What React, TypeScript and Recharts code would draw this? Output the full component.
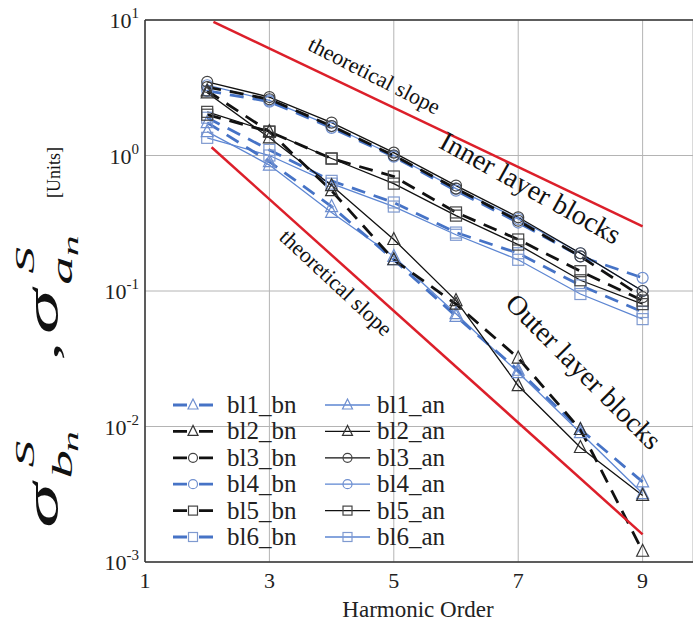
import React from 'react';
import { LineChart, Line, XAxis, YAxis, CartesianGrid, ReferenceLine } from 'recharts';

const FONT = "'Liberation Serif', 'Times New Roman', serif";

// harmonic orders on the x axis
const harmonics = [2, 3, 4, 5, 6, 7, 8, 9];

// outer layer blocks (triangles)
const bl1_bn = [1.75, 0.9, 0.42, 0.17, 0.065, 0.026, 0.0095, 0.0039];
const bl1_an = [1.5, 0.85, 0.38, 0.18, 0.068, 0.025, 0.009, 0.0032];
const bl2_bn = [3.0, 1.5, 0.55, 0.17, 0.08, 0.032, 0.0095, 0.0012];
const bl2_an = [2.9, 1.35, 0.6, 0.24, 0.085, 0.02, 0.007, 0.0031];

// inner layer blocks (circles, squares)
const bl3_bn = [3.2, 2.6, 1.65, 1.0, 0.57, 0.33, 0.18, 0.09];
const bl3_an = [3.5, 2.7, 1.75, 1.05, 0.6, 0.35, 0.19, 0.1];
const bl4_bn = [3.0, 2.5, 1.6, 0.98, 0.55, 0.32, 0.18, 0.125];
const bl4_an = [3.3, 2.55, 1.65, 1.0, 0.57, 0.34, 0.19, 0.1];
const bl5_bn = [2.0, 1.5, 0.95, 0.7, 0.38, 0.24, 0.14, 0.085];
const bl5_an = [2.1, 1.5, 0.95, 0.62, 0.36, 0.22, 0.12, 0.08];
const bl6_bn = [1.9, 1.1, 0.65, 0.45, 0.27, 0.19, 0.11, 0.07];
const bl6_an = [1.35, 1.0, 0.62, 0.42, 0.26, 0.17, 0.095, 0.062];

// theoretical slope guide lines
const upperSlopeX = [2.1, 9];
const upperSlopeY = [9.7, 0.3];
const lowerSlopeX = [2.07, 9];
const lowerSlopeY = [1.15, 0.0016];

const xTicks = [1, 3, 5, 7, 9];
const yTicks = [0.001, 0.01, 0.1, 1, 10];

const values: Record<string, number[]> = {
  bl1_bn, bl1_an, bl2_bn, bl2_an, bl3_bn, bl3_an,
  bl4_bn, bl4_an, bl5_bn, bl5_an, bl6_bn, bl6_an,
};

const data = harmonics.map((h, i) => {
  const row: Record<string, number> = { h };
  Object.keys(values).forEach((k) => { row[k] = values[k][i]; });
  return row;
});

const upperSlope = upperSlopeX.map((h, i) => ({ h, v: upperSlopeY[i] }));
const lowerSlope = lowerSlopeX.map((h, i) => ({ h, v: lowerSlopeY[i] }));

const BLUE = '#4673c6';
const BLUE_LIGHT = '#5d86d2';
const BLACK = '#111';
const RED = '#dc1f2a';

type Shape = 'triangle' | 'circle' | 'square';

const styleOf: Record<string, { color: string; mark: string; shape: Shape; dashed: boolean }> = {
  bl1_bn: { color: BLUE, mark: '#6f8fcf', shape: 'triangle', dashed: true },
  bl1_an: { color: BLUE_LIGHT, mark: '#6f8fcf', shape: 'triangle', dashed: false },
  bl2_bn: { color: BLACK, mark: '#333', shape: 'triangle', dashed: true },
  bl2_an: { color: BLACK, mark: '#333', shape: 'triangle', dashed: false },
  bl3_bn: { color: BLACK, mark: '#444', shape: 'circle', dashed: true },
  bl3_an: { color: BLACK, mark: '#444', shape: 'circle', dashed: false },
  bl4_bn: { color: BLUE, mark: '#6f8fcf', shape: 'circle', dashed: true },
  bl4_an: { color: BLUE_LIGHT, mark: '#6f8fcf', shape: 'circle', dashed: false },
  bl5_bn: { color: BLACK, mark: '#444', shape: 'square', dashed: true },
  bl5_an: { color: BLACK, mark: '#444', shape: 'square', dashed: false },
  bl6_bn: { color: BLUE, mark: '#7f9ad0', shape: 'square', dashed: true },
  bl6_an: { color: BLUE_LIGHT, mark: '#7f9ad0', shape: 'square', dashed: false },
};

const order = ['bl6_an', 'bl6_bn', 'bl1_an', 'bl1_bn', 'bl5_an', 'bl5_bn', 'bl4_an', 'bl4_bn', 'bl2_an', 'bl2_bn', 'bl3_an', 'bl3_bn'];

const Marker = ({ cx, cy, shape, color, s = 6 }: any) => {
  if (shape === 'triangle') {
    return <polygon points={`${cx},${cy - s - 1} ${cx - s},${cy + s - 1} ${cx + s},${cy + s - 1}`} fill="none" stroke={color} strokeWidth={1.2} />;
  }
  if (shape === 'circle') {
    return <circle cx={cx} cy={cy} r={s - 0.5} fill="none" stroke={color} strokeWidth={1.2} />;
  }
  return <rect x={cx - s + 0.5} y={cy - s + 0.5} width={2 * s - 1} height={2 * s - 1} fill="none" stroke={color} strokeWidth={1.2} />;
};

const makeDot = (name: string) => (props: any) => {
  const { cx, cy, index } = props;
  const st = styleOf[name];
  if (cx == null || cy == null) return <g key={`${name}-${index}`} />;
  return (
    <g key={`${name}-${index}`}>
      <Marker cx={cx} cy={cy} shape={st.shape} color={st.mark} />
    </g>
  );
};

const LogTick = ({ x, y, payload }: any) => {
  const exp = Math.round(Math.log10(payload.value));
  return (
    <text x={x} y={y + 8} textAnchor="end" style={{ fontFamily: FONT }} fill="#222">
      <tspan fontSize={22}>10</tspan>
      <tspan fontSize={15} dy={-10}>{exp}</tspan>
    </text>
  );
};

const XTick = ({ x, y, payload }: any) => (
  <text x={x} y={y + 16} textAnchor="middle" style={{ fontFamily: FONT }} fontSize={22} fill="#222">{payload.value}</text>
);

const legendRows = [['bl1_bn', 'bl1_an'], ['bl2_bn', 'bl2_an'], ['bl3_bn', 'bl3_an'], ['bl4_bn', 'bl4_an'], ['bl5_bn', 'bl5_an'], ['bl6_bn', 'bl6_an']];

const Overlay = () => (
  <svg width={693} height={630} style={{ position: 'absolute', left: 0, top: 0, pointerEvents: 'none', fontFamily: FONT }}>
    {/* y axis title, stretched along the axis like the original */}
    <g transform="translate(58, 528) rotate(-90) scale(1.9, 1)" fill="#111" fontStyle="italic">
      <text x={0} y={0} fontSize={48}>σ</text>
      <text x={32} y={-24} fontSize={28}>S</text>
      <text x={26} y={14} fontSize={30}>b</text>
      <text x={40} y={20} fontSize={22}>n</text>
      <text x={88} y={0} fontSize={40} fontStyle="normal">,</text>
      <text x={102} y={0} fontSize={48}>σ</text>
      <text x={134} y={-24} fontSize={28}>S</text>
      <text x={128} y={14} fontSize={30}>a</text>
      <text x={143} y={20} fontSize={22}>n</text>
    </g>
    <text transform="translate(60, 198) rotate(-90)" fontSize={18} fill="#111">[Units]</text>

    <text x={418} y={617} textAnchor="middle" fontSize={23} fill="#222">Harmonic Order</text>

    {/* annotations */}
    <text transform="translate(371, 82) rotate(27)" textAnchor="middle" fontSize={22} fill="#111">theoretical slope</text>
    <text transform="translate(526, 196) rotate(29)" textAnchor="middle" fontSize={28} fill="#111">Inner layer blocks</text>
    <text transform="translate(577, 378) rotate(45)" textAnchor="middle" fontSize={28} fill="#111">Outer layer blocks</text>
    <text transform="translate(331, 288) rotate(43)" textAnchor="middle" fontSize={22} fill="#111">theoretical slope</text>

    {/* legend */}
    {legendRows.map((row, r) => {
      const y = 405 + r * 26.4;
      return row.map((name, c) => {
        const st = styleOf[name];
        const x0 = c === 0 ? 173 : 325;
        const x1 = c === 0 ? 213 : 370;
        const tx = c === 0 ? 227 : 377;
        return (
          <g key={name}>
            <line x1={x0} y1={y} x2={x1} y2={y} stroke={st.color} strokeWidth={st.dashed ? 2.8 : 1.3} strokeDasharray={st.dashed ? '14 12' : undefined} />
            <Marker cx={(x0 + x1) / 2} cy={y} shape={st.shape} color={st.mark} s={5} />
            <text x={tx} y={y + 8} fontSize={25} fill="#222">{name}</text>
          </g>
        );
      });
    })}
  </svg>
);

export default function App() {
  return (
    <div style={{ position: 'absolute', left: 0, top: 0, width: 693, height: 630, background: '#fff' }}>
      <LineChart width={693} height={630} data={data} margin={{ top: 20, right: 0, left: 85, bottom: 38 }}>
        <CartesianGrid stroke="#b4b4b4" strokeWidth={1} />
        <XAxis
          dataKey="h"
          type="number"
          domain={[1, 9.81]}
          ticks={xTicks}
          allowDataOverflow
          height={30}
          tickLine={false}
          tickMargin={4}
          axisLine={{ stroke: '#333', strokeWidth: 1.5 }}
          tick={<XTick />}
        />
        <YAxis
          type="number"
          scale="log"
          domain={[0.001, 10]}
          ticks={yTicks}
          allowDataOverflow
          width={60}
          tickLine={false}
          tickMargin={0}
          axisLine={{ stroke: '#333', strokeWidth: 1.5 }}
          tick={<LogTick />}
        />
        <ReferenceLine y={10} stroke="#333" strokeWidth={1.5} />
        {order.map((name) => {
          const st = styleOf[name];
          return (
            <Line
              key={name}
              type="linear"
              dataKey={name}
              stroke={st.color}
              strokeWidth={st.dashed ? 2.8 : 1.3}
              strokeDasharray={st.dashed ? '14 9' : undefined}
              dot={makeDot(name)}
              activeDot={false}
              isAnimationActive={false}
            />
          );
        })}
        <Line data={upperSlope} dataKey="v" type="linear" stroke={RED} strokeWidth={2.5} dot={false} activeDot={false} isAnimationActive={false} />
        <Line data={lowerSlope} dataKey="v" type="linear" stroke={RED} strokeWidth={2.5} dot={false} activeDot={false} isAnimationActive={false} />
      </LineChart>
      <Overlay />
    </div>
  );
}
